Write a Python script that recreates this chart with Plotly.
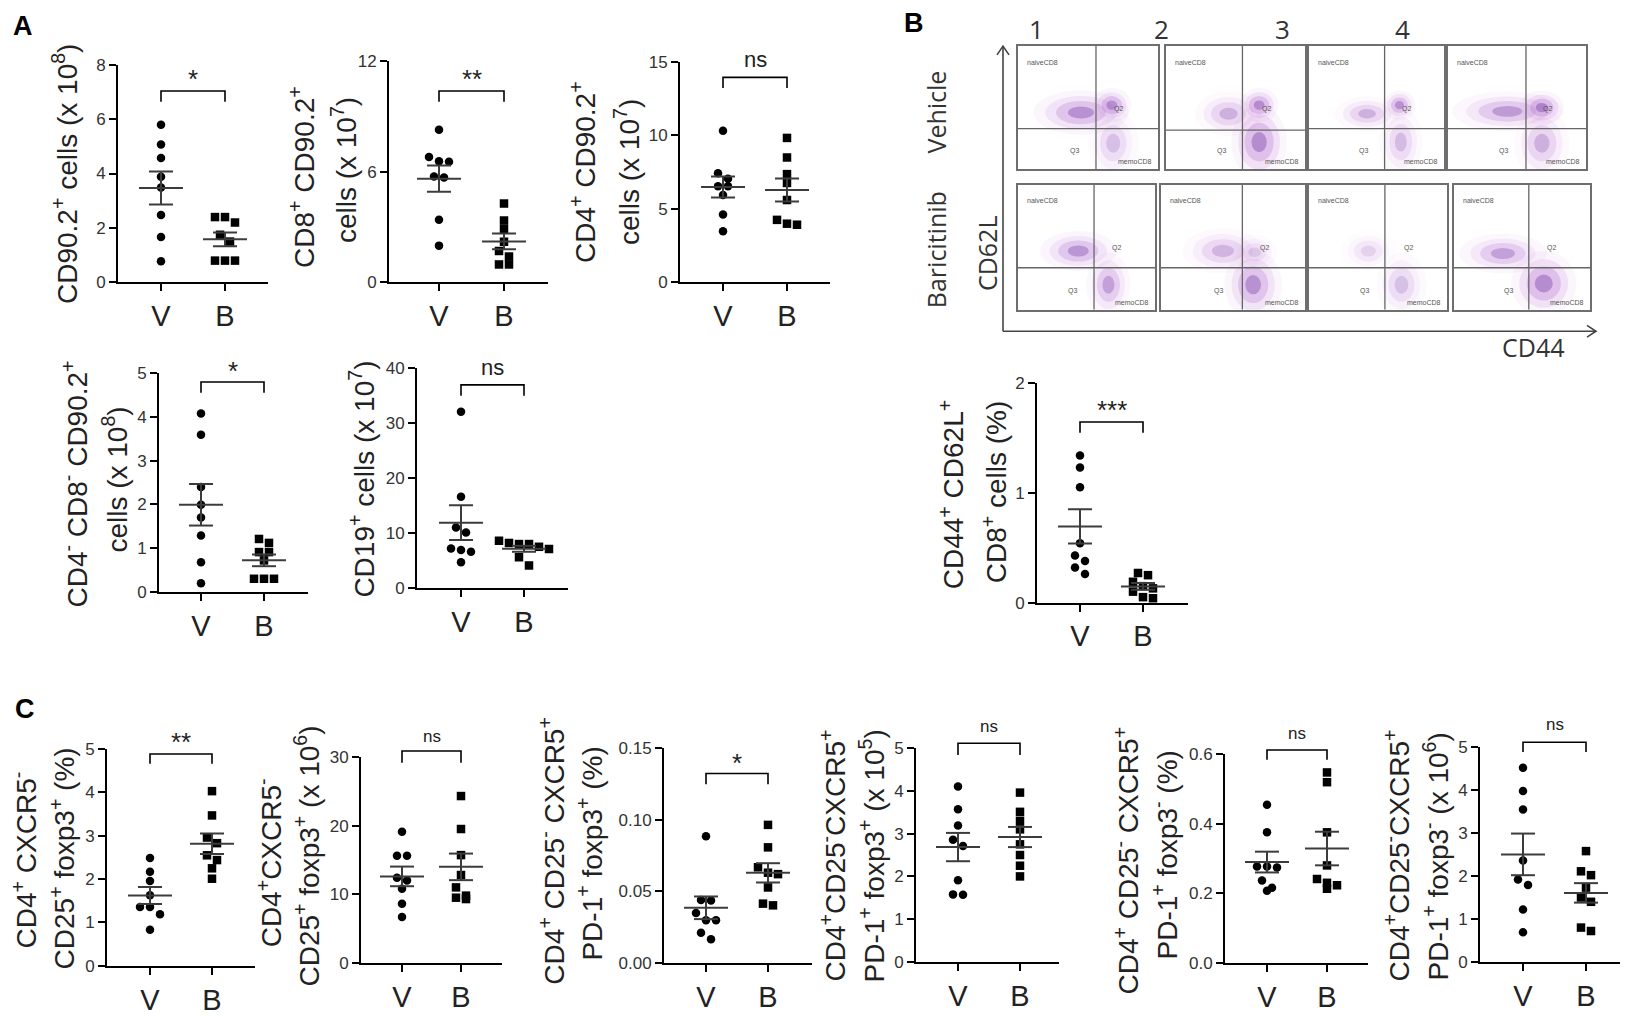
import numpy as np
import plotly.graph_objects as go

W, H = 1640, 1016

# ---------------- data ----------------
groups = ["V", "B"]

a1_v = [5.79, 5.07, 4.57, 3.88, 3.49, 2.48, 1.67, 0.78]
a1_b = [2.40, 2.40, 2.20, 1.75, 1.50, 0.80, 0.80, 0.80]
a2_v = [8.26, 6.79, 6.56, 6.53, 5.73, 5.68, 3.39, 1.99]
a2_b = [4.27, 3.35, 2.90, 2.20, 1.70, 1.40, 0.97, 0.97]
a3_v = [10.3, 7.42, 7.05, 6.54, 6.54, 5.94, 4.61, 3.48]
a3_b = [9.82, 8.49, 7.36, 6.76, 5.60, 4.25, 3.99, 3.92]
a4_v = [4.08, 3.59, 2.40, 1.99, 1.70, 1.29, 0.68, 0.20]
a4_b = [1.21, 1.12, 0.91, 0.91, 0.72, 0.30, 0.30, 0.30]
a5_v = [32.1, 16.6, 11.0, 10.1, 7.2, 6.9, 6.6, 4.7]
a5_b = [8.6, 8.2, 8.0, 8.0, 7.5, 7.1, 5.6, 4.1]
bb_v = [1.34, 1.23, 1.05, 0.54, 0.43, 0.38, 0.32, 0.26]
bb_b = [0.27, 0.25, 0.19, 0.15, 0.13, 0.10, 0.05, 0.04]
c1_v = [2.49, 2.17, 1.96, 1.63, 1.36, 1.36, 1.19, 0.83]
c1_b = [4.03, 3.47, 2.96, 2.83, 2.55, 2.44, 2.25, 2.01]
c2_v = [19.1, 15.6, 15.6, 12.4, 12.0, 10.8, 8.6, 6.7]
c2_b = [24.3, 19.5, 15.7, 12.8, 11.0, 9.8, 9.5, 9.3]
c3_v = [0.0884, 0.0439, 0.0436, 0.0348, 0.0298, 0.0298, 0.0211, 0.0166]
c3_b = [0.0964, 0.0807, 0.0668, 0.0630, 0.0620, 0.0527, 0.0414, 0.0402]
c4_v = [4.10, 3.57, 3.19, 2.86, 2.71, 1.91, 1.58, 1.57]
c4_b = [3.96, 3.51, 3.30, 3.10, 2.75, 2.50, 2.25, 2.00]
c5_v = [0.454, 0.375, 0.277, 0.277, 0.274, 0.237, 0.216, 0.207]
c5_b = [0.547, 0.519, 0.375, 0.280, 0.241, 0.230, 0.223, 0.213]
c6_v = [4.52, 3.98, 3.55, 2.36, 1.92, 1.79, 1.22, 0.69]
c6_b = [2.58, 2.11, 2.02, 1.73, 1.50, 1.40, 0.80, 0.72]

ticks_0_5 = [0, 1, 2, 3, 4, 5]
a1_ticks = [0, 2, 4, 6, 8]
a2_ticks = [0, 6, 12]
a3_ticks = [0, 5, 10, 15]
a5_ticks = [0, 10, 20, 30, 40]
bb_ticks = [0, 1, 2]
c2_ticks = [0, 10, 20, 30]
c3_ticks = [0, 0.05, 0.10, 0.15]
c3_labels = ["0.00", "0.05", "0.10", "0.15"]
c5_ticks = [0, 0.2, 0.4, 0.6]
c5_labels = ["0.0", "0.2", "0.4", "0.6"]

# flow plots: clusters (cx, cy, rx, ry, density) in box fractions
flow_clusters = [
    [(0.45, 0.46, 0.17, 0.09, 0.9), (0.67, 0.52, 0.07, 0.07, 0.9), (0.68, 0.21, 0.09, 0.14, 0.45)],
    [(0.45, 0.45, 0.12, 0.09, 0.6), (0.67, 0.52, 0.07, 0.07, 0.95), (0.67, 0.22, 0.10, 0.15, 0.95)],
    [(0.43, 0.45, 0.12, 0.07, 0.6), (0.67, 0.52, 0.06, 0.06, 0.9), (0.68, 0.22, 0.08, 0.14, 0.5)],
    [(0.43, 0.47, 0.20, 0.08, 0.8), (0.68, 0.50, 0.08, 0.07, 1.0), (0.68, 0.21, 0.10, 0.14, 0.6)],
    [(0.44, 0.47, 0.14, 0.08, 0.85), (0.66, 0.20, 0.08, 0.13, 0.75)],
    [(0.43, 0.47, 0.14, 0.09, 0.55), (0.65, 0.46, 0.08, 0.07, 0.35), (0.64, 0.20, 0.10, 0.14, 0.9)],
    [(0.43, 0.47, 0.10, 0.08, 0.3), (0.67, 0.20, 0.09, 0.13, 0.45)],
    [(0.36, 0.45, 0.16, 0.08, 0.75), (0.66, 0.21, 0.12, 0.13, 0.95)],
]
flow_numbers = ["1", "2", "3", "4"]

# ---------------- layout in pixels ----------------
ARIAL = "Liberation Sans, Arial, sans-serif"
SANS = "Open Sans, sans-serif"
INK = "#222222"

panels = [
    dict(v=a1_v, b=a1_b, ticks=a1_ticks, labels=None, box=(118, 268, 161, 225, 280, 57), ymax=8,
         sig="*", sig_y=68, br=(84, 95),
         titles=[("CD90.2<sup>+</sup> cells (x 10<sup>8</sup>)", 65, 169)]),
    dict(v=a2_v, b=a2_b, ticks=a2_ticks, labels=None, box=(389, 548, 439, 504, 280, 53), ymax=12,
         sig="**", sig_y=68, br=(84, 95),
         titles=[("CD8<sup>+</sup> CD90.2<sup>+</sup>", 302, 172), ("cells (x 10<sup>7</sup>)", 344, 165)]),
    dict(v=a3_v, b=a3_b, ticks=a3_ticks, labels=None, box=(680, 830, 723, 787, 280, 54), ymax=15,
         sig="ns", sig_y=52, br=(70, 81),
         titles=[("CD4<sup>+</sup> CD90.2<sup>+</sup>", 583, 167), ("cells (x 10<sup>7</sup>)", 627, 167)]),
    dict(v=a4_v, b=a4_b, ticks=ticks_0_5, labels=None, box=(159, 308, 201, 264, 597, 373), ymax=5,
         sig="*", sig_y=367, br=(382, 393),
         titles=[("CD4<sup>-</sup> CD8<sup>-</sup> CD90.2<sup>+</sup>", 76, 487), ("cells (x 10<sup>8</sup>)", 115, 482)]),
    dict(v=a5_v, b=a5_b, ticks=a5_ticks, labels=None, box=(417, 568, 461, 524, 593, 368), ymax=40,
         sig="ns", sig_y=367, br=(385, 396),
         titles=[("CD19<sup>+</sup> cells (x 10<sup>7</sup>)", 362, 482)]),
    dict(v=bb_v, b=bb_b, ticks=bb_ticks, labels=None, box=(1037, 1188, 1080, 1143, 608, 383), ymax=2,
         sig="***", sig_y=407, br=(423, 434),
         titles=[("CD44<sup>+</sup> CD62L<sup>+</sup>", 952, 497), ("CD8<sup>+</sup> cells (%)", 995, 495)]),
    dict(v=c1_v, b=c1_b, ticks=ticks_0_5, labels=None, box=(107, 255, 150, 212, 980, 758), ymax=5,
         sig="**", sig_y=747, br=(763, 773),
         titles=[("CD4<sup>+</sup> CXCR5<sup>-</sup>", 25, 872), ("CD25<sup>+</sup> foxp3<sup>+</sup> (%)", 63, 870)]),
    dict(v=c2_v, b=c2_b, ticks=c2_ticks, labels=None, box=(361, 502, 402, 461, 977, 766), ymax=30,
         sig="ns", sig_y=745, br=(760, 772),
         titles=[("CD4<sup>+</sup>CXCR5<sup>-</sup>", 270, 875), ("CD25<sup>+</sup> foxp3<sup>+</sup> (x 10<sup>6</sup>)", 308, 868)]),
    dict(v=c3_v, b=c3_b, ticks=c3_ticks, labels=c3_labels, box=(664, 812, 706, 768, 977, 757), ymax=0.15,
         sig="*", sig_y=768, br=(783, 794),
         titles=[("CD4<sup>+</sup> CD25<sup>-</sup> CXCR5<sup>+</sup>", 552, 862), ("PD-1<sup>+</sup> foxp3<sup>+</sup> (%)", 590, 865)]),
    dict(v=c4_v, b=c4_b, ticks=ticks_0_5, labels=None, box=(916, 1059, 958, 1020, 976, 757), ymax=5,
         sig="ns", sig_y=735, br=(752, 764),
         titles=[("CD4<sup>+</sup>CD25<sup>-</sup>CXCR5<sup>+</sup>", 833, 867), ("PD-1<sup>+</sup> foxp3<sup>+</sup> (x 10<sup>5</sup>)", 873, 868)]),
    dict(v=c5_v, b=c5_b, ticks=c5_ticks, labels=c5_labels, box=(1225, 1368, 1267, 1327, 977, 763), ymax=0.6,
         sig="ns", sig_y=742, br=(759, 769),
         titles=[("CD4<sup>+</sup> CD25<sup>-</sup> CXCR5<sup>+</sup>", 1127, 872), ("PD-1<sup>+</sup> foxp3<sup>-</sup> (%)", 1165, 867)]),
    dict(v=c6_v, b=c6_b, ticks=ticks_0_5, labels=None, box=(1480, 1620, 1523, 1586, 976, 756), ymax=5,
         sig="ns", sig_y=733, br=(751, 761),
         titles=[("CD4<sup>+</sup>CD25<sup>-</sup>CXCR5<sup>+</sup>", 1397, 867), ("PD-1<sup>+</sup> foxp3<sup>-</sup> (x 10<sup>6</sup>)", 1437, 868)]),
]

# flow boxes: (left, right, top, bottom, gate_x, gate_y)
flow_boxes = [
    (1018, 1158, 38, 164, 0.557, 0.33), (1166, 1305, 38, 164, 0.55, 0.317),
    (1309, 1444, 38, 164, 0.56, 0.33), (1448, 1586, 38, 164, 0.565, 0.33),
    (1018, 1155, 180, 308, 0.555, 0.336), (1161, 1305, 180, 308, 0.565, 0.336),
    (1309, 1447, 180, 308, 0.55, 0.336), (1454, 1590, 180, 308, 0.55, 0.336),
]


def px(x):
    return x / W


def py(y):
    return 1 - y / H


def label(text, x, y, size, family=ARIAL, color=INK, angle=0, xref="paper", yref="paper",
          xanchor="center"):
    return dict(text=text, xref=xref, yref=yref, x=x, y=y, textangle=angle, showarrow=False,
                xanchor=xanchor, yanchor="middle", font=dict(family=family, size=size, color=color))


def swarm(vals, ppx, ppy, d=10.0):
    # spread points that would overlap vertically (GraphPad-like scatter)
    order = np.argsort(vals)[::-1]
    offs = np.zeros(len(vals))
    group = []
    for idx in list(order) + [None]:
        if idx is not None and group and (vals[group[0]] - vals[idx]) * ppy < d * 0.85:
            group.append(idx)
            continue
        n = len(group)
        for k, g in enumerate(group):
            offs[g] = (k - (n - 1) / 2) * d / ppx
        group = [idx] if idx is not None else []
    return offs


fig = go.Figure()
layout = {}
annotations = []
shapes = []

for i, p in enumerate(panels, start=1):
    x0, x1, xv, xb, y0, y1 = p["box"]
    ppx = xb - xv
    ppy = (y0 - y1) / p["ymax"]
    xa, ya = f"x{i}", f"y{i}"
    for gi, (vals, sym) in enumerate([(p["v"], "circle"), (p["b"], "square")]):
        vals = np.array(vals, dtype=float)
        xs = gi + swarm(vals, ppx, ppy)
        fig.add_trace(go.Scatter(x=xs, y=vals, mode="markers", xaxis=xa, yaxis=ya,
                                 marker=dict(symbol=sym, size=8.5, color="black"),
                                 cliponaxis=False, showlegend=False, hoverinfo="skip"))
        m = vals.mean()
        sem = vals.std(ddof=1) / np.sqrt(len(vals))
        hw, cw = 22 / ppx, 12 / ppx
        fig.add_trace(go.Scatter(
            x=[gi - hw, gi + hw, None, gi - cw, gi + cw, None, gi - cw, gi + cw, None, gi, gi],
            y=[m, m, None, m + sem, m + sem, None, m - sem, m - sem, None, m - sem, m + sem],
            mode="lines", line=dict(color="#3c3c3c", width=2), xaxis=xa, yaxis=ya,
            cliponaxis=False, showlegend=False, hoverinfo="skip"))

    sfx = "" if i == 1 else str(i)
    layout["xaxis" + sfx] = dict(
        domain=[px(x0), px(x1)], range=[(x0 - xv) / ppx, (x1 - xv) / ppx], anchor=ya,
        tickvals=[0, 1], ticktext=groups, showline=True, linecolor="black", linewidth=2,
        ticks="outside", ticklen=7, tickwidth=2, tickcolor="black", showgrid=False, zeroline=False,
        tickfont=dict(family=ARIAL, size=29, color=INK), fixedrange=True)
    layout["yaxis" + sfx] = dict(
        domain=[py(y0), py(y1)], range=[0, p["ymax"]], anchor=xa,
        tickvals=p["ticks"], ticktext=p["labels"] or [str(t) for t in p["ticks"]],
        showline=True, linecolor="black", linewidth=2, ticks="outside", ticklen=7, tickwidth=2,
        tickcolor="black", showgrid=False, zeroline=False,
        tickfont=dict(family=ARIAL, size=17, color="#333333"), fixedrange=True)

    # significance bracket
    bt, bd = p["br"]
    shapes.append(dict(type="path", xref=xa, yref="paper",
                       path=f"M 0,{py(bd)} L 0,{py(bt)} L 1,{py(bt)} L 1,{py(bd)}",
                       line=dict(color="black", width=1.6)))
    star = p["sig"].startswith("*")
    if star:
        sz = 26
    elif i <= 6:
        sz = 22
    else:
        sz = 17
    annotations.append(label(p["sig"], 0.5, py(p["sig_y"] + (4 if star else 0)), sz, xref=xa))
    for txt, tx, ty in p["titles"]:
        annotations.append(label(txt, px(tx), py(ty), 28, angle=-90))

# ---------------- flow cytometry tiles ----------------
layers = [(2.0, "rgba(220,170,232,{a})", 0.12), (1.5, "rgba(200,135,222,{a})", 0.18),
          (1.05, "rgba(165,95,200,{a})", 0.26), (0.55, "rgba(115,55,165,{a})", 0.40)]
n0 = len(panels)
for j, (box, clusters) in enumerate(zip(flow_boxes, flow_clusters)):
    k = n0 + j + 1
    l, r, t, b, gx, gy = box
    xa, ya = f"x{k}", f"y{k}"
    layout[f"xaxis{k}"] = dict(domain=[px(l), px(r)], range=[0, 1], anchor=ya, showline=True,
                               mirror=True, linecolor="#6e6e6e", linewidth=1.5, showticklabels=False,
                               ticks="", showgrid=False, zeroline=False, fixedrange=True)
    layout[f"yaxis{k}"] = dict(domain=[py(b), py(t)], range=[0, 1], anchor=xa, showline=True,
                               mirror=True, linecolor="#6e6e6e", linewidth=1.5, showticklabels=False,
                               ticks="", showgrid=False, zeroline=False, fixedrange=True)
    for cx, cy, rx, ry, dens in clusters:
        for sc, col, al in layers:
            shapes.append(dict(type="circle", xref=xa, yref=ya,
                               x0=cx - rx * sc, x1=cx + rx * sc, y0=cy - ry * sc, y1=cy + ry * sc,
                               fillcolor=col.format(a=round(al * dens, 3)), line=dict(width=0)))
    shapes.append(dict(type="line", xref=xa, yref=ya, x0=gx, x1=gx, y0=0, y1=1,
                       line=dict(color="#666666", width=1.3)))
    shapes.append(dict(type="line", xref=xa, yref=ya, x0=0, x1=1, y0=gy, y1=gy,
                       line=dict(color="#666666", width=1.3)))
    for txt, tx, ty, anc in [("naiveCD8", 0.05, 0.87, "left"), ("Q2", 0.72, 0.49, "center"),
                             ("Q3", 0.40, 0.15, "center"), ("memoCD8", 0.97, 0.06, "right")]:
        annotations.append(label(txt, tx, ty, 7, color="#555555", xref=xa, yref=ya, xanchor=anc))
    fig.add_trace(go.Scatter(x=[None], y=[None], xaxis=xa, yaxis=ya, showlegend=False))

# column numbers and row labels
for num, nx in zip(flow_numbers, [1036, 1161, 1282, 1402]):
    annotations.append(label(num, px(nx), py(20), 26, family=SANS, color="#333333"))
for txt, tx, ty in [("Vehicle", 936, 105), ("Baricitinib", 936, 246), ("CD62L", 987, 250)]:
    annotations.append(label(txt, px(tx), py(ty), 25, family=SANS, color="#333333", angle=-90))
annotations.append(label("CD44", px(1533), py(346), 25, family=SANS, color="#333333"))

# axis arrows around the flow tiles
arrow = dict(color="#444444", width=1.6)
shapes += [
    dict(type="line", xref="paper", yref="paper", x0=px(1003), x1=px(1003), y0=py(330), y1=py(38), line=arrow),
    dict(type="path", xref="paper", yref="paper",
         path=f"M {px(997)},{py(47)} L {px(1003)},{py(38)} L {px(1009)},{py(47)}", line=arrow),
    dict(type="line", xref="paper", yref="paper", x0=px(1003), x1=px(1596), y0=py(330), y1=py(330), line=arrow),
    dict(type="path", xref="paper", yref="paper",
         path=f"M {px(1587)},{py(324)} L {px(1596)},{py(330)} L {px(1587)},{py(336)}", line=arrow),
]

# panel letters
for txt, tx, ty in [("A", 23, 17), ("B", 914, 14), ("C", 25, 717)]:
    annotations.append(label(f"<b>{txt}</b>", px(tx), py(ty), 27, color="black"))

fig.update_layout(
    width=W, height=H, margin=dict(l=0, r=0, t=0, b=0),
    paper_bgcolor="white", plot_bgcolor="rgba(0,0,0,0)",
    showlegend=False, annotations=annotations, shapes=shapes, **layout)

fig.write_html("out.html", config={"displayModeBar": False},
               post_script="document.body.style.margin='0';")
